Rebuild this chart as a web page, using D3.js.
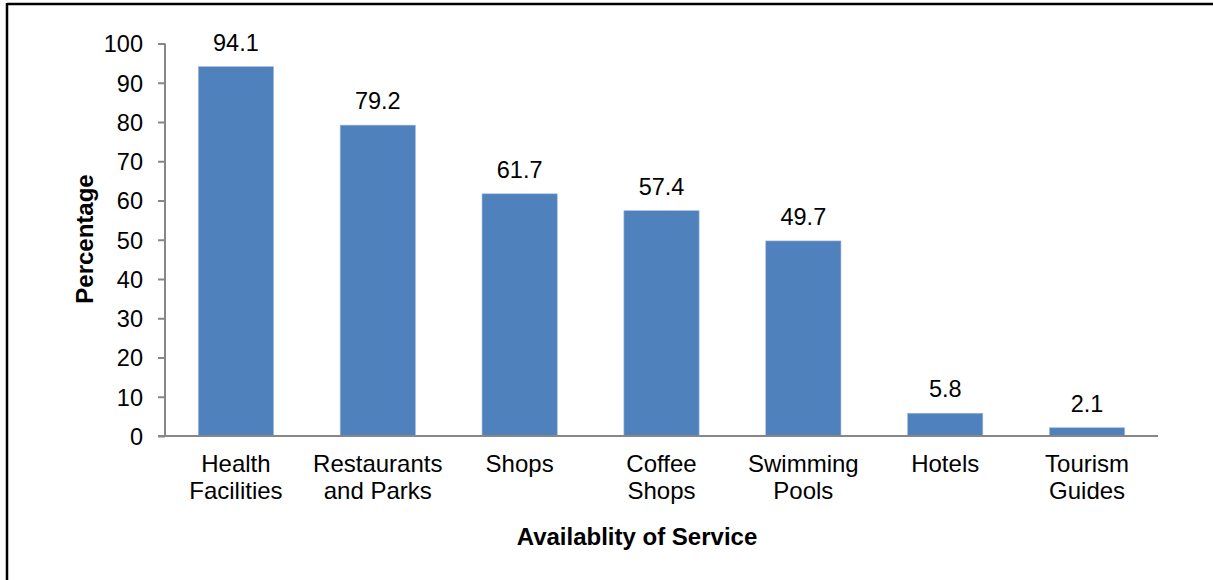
<!DOCTYPE html>
<html>
<head>
<meta charset="utf-8">
<script src="https://cdn.jsdelivr.net/npm/d3@7"></script>
<style>
  html, body { margin: 0; padding: 0; background: #fff; }
  svg { display: block; }
  text { font-family: "Liberation Sans", Arial, sans-serif; fill: #000; }
</style>
</head>
<body>
<svg id="chart" width="1213" height="580"></svg>
<script>
const categories = [
  ["Health", "Facilities"],
  ["Restaurants", "and Parks"],
  ["Shops"],
  ["Coffee", "Shops"],
  ["Swimming", "Pools"],
  ["Hotels"],
  ["Tourism", "Guides"]
];
const values = [94.1, 79.2, 61.7, 57.4, 49.7, 5.8, 2.1];
const yTicks = [0, 10, 20, 30, 40, 50, 60, 70, 80, 90, 100];
const yTitle = "Percentage";
const xTitle = "Availablity of Service";

const svg = d3.select("#chart");
const W = 1213, H = 580;
const plot = { left: 165, right: 1158, top: 43.5, bottom: 436 };

// outer frame (top and left edges visible)
svg.append("line").attr("x1", 7).attr("x2", W).attr("y1", 4).attr("y2", 4)
  .attr("stroke", "#000").attr("stroke-width", 2.5);
svg.append("line").attr("x1", 7).attr("x2", 7).attr("y1", 3).attr("y2", H)
  .attr("stroke", "#000").attr("stroke-width", 2.5);

const keys = categories.map((c, i) => i);
const x = d3.scaleBand().domain(keys).range([plot.left, plot.right]).paddingInner(0.47).paddingOuter(0.235);
const y = d3.scaleLinear().domain([0, 100]).range([plot.bottom, plot.top]);

// bars
svg.append("g").selectAll("rect").data(values).join("rect")
  .attr("x", (d, i) => x(i))
  .attr("y", d => y(d))
  .attr("width", x.bandwidth())
  .attr("height", d => y(0) - y(d))
  .attr("fill", "#4F81BD")
  .attr("stroke", "#9DB7DA")
  .attr("stroke-width", 0.6);

// value labels
svg.append("g").selectAll("text").data(values).join("text")
  .attr("x", (d, i) => x(i) + x.bandwidth() / 2)
  .attr("y", d => y(d) - 16)
  .attr("text-anchor", "middle")
  .style("font-size", "23.5px")
  .text(d => d.toFixed(1));

// y axis
const yAxis = d3.axisLeft(y).tickValues(yTicks).tickSize(7).tickPadding(15).tickFormat(d3.format("d"));
const gy = svg.append("g").attr("transform", `translate(${plot.left},0)`).call(yAxis);
gy.select(".domain").attr("stroke", "#878787").attr("stroke-width", 2).attr("d", `M0,${plot.top}V${plot.bottom}`);
gy.selectAll(".tick line").attr("stroke", "#878787").attr("stroke-width", 2);
gy.selectAll(".tick text").style("font-size", "23.5px").style("font-family", "'Liberation Sans', Arial, sans-serif").attr("fill", "#000").attr("dy", "0.36em");

// x axis
const xAxis = d3.axisBottom(x).tickSize(0).tickFormat(() => "");
const gx = svg.append("g").attr("transform", `translate(0,${plot.bottom})`).call(xAxis);
gx.select(".domain").attr("stroke", "#878787").attr("stroke-width", 2).attr("d", `M${plot.left - 7},0H${plot.right}`);

// category labels
const catG = svg.append("g");
categories.forEach((lines, i) => {
  const t = catG.append("text")
    .attr("x", x(i) + x.bandwidth() / 2)
    .attr("y", plot.bottom + 36)
    .attr("text-anchor", "middle")
    .style("font-size", "24px");
  lines.forEach((ln, j) => {
    t.append("tspan").attr("x", x(i) + x.bandwidth() / 2).attr("dy", j === 0 ? 0 : 27).text(ln);
  });
});

// axis titles
svg.append("text")
  .attr("transform", `translate(93,239) rotate(-90)`)
  .attr("text-anchor", "middle")
  .style("font-size", "24px").style("font-weight", "bold")
  .text(yTitle);
svg.append("text")
  .attr("x", 637).attr("y", 545)
  .attr("text-anchor", "middle")
  .style("font-size", "24px").style("font-weight", "bold")
  .text(xTitle);
</script>
</body>
</html>
